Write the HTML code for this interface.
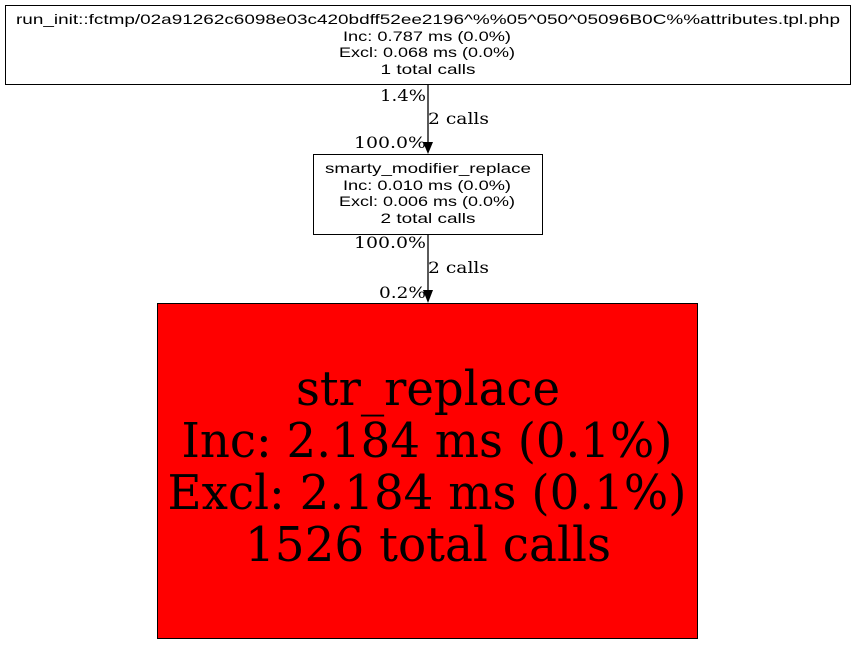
<!DOCTYPE html>
<html><head><style>html,body{margin:0;padding:0;background:#fff}</style></head>
<body>
<svg width="856" height="645" viewBox="0 0 856 645" xmlns="http://www.w3.org/2000/svg">
<rect x="0" y="0" width="856" height="645" fill="#fff"/>
<g font-family="Liberation Sans, DejaVu Sans, sans-serif" font-size="14" text-anchor="middle" fill="#000">
<rect x="5.5" y="5.5" width="845" height="79" fill="#fff" stroke="#000"/>
<text x="428" y="24" textLength="824" lengthAdjust="spacingAndGlyphs">run_init::fctmp/02a91262c6098e03c420bdff52ee2196^%%05^050^05096B0C%%attributes.tpl.php</text>
<text x="427" y="41" textLength="168" lengthAdjust="spacingAndGlyphs">Inc: 0.787 ms (0.0%)</text>
<text x="427" y="57" textLength="176" lengthAdjust="spacingAndGlyphs">Excl: 0.068 ms (0.0%)</text>
<text x="428" y="74" textLength="95" lengthAdjust="spacingAndGlyphs">1 total calls</text>
<rect x="313.5" y="154.5" width="229" height="80" fill="#fff" stroke="#000"/>
<text x="428" y="173" textLength="206" lengthAdjust="spacingAndGlyphs">smarty_modifier_replace</text>
<text x="427" y="190" textLength="168" lengthAdjust="spacingAndGlyphs">Inc: 0.010 ms (0.0%)</text>
<text x="427" y="206" textLength="176" lengthAdjust="spacingAndGlyphs">Excl: 0.006 ms (0.0%)</text>
<text x="428" y="223" textLength="95" lengthAdjust="spacingAndGlyphs">2 total calls</text>
</g>
<g stroke="#000" stroke-width="1.3">
<line x1="428" y1="85" x2="428" y2="143"/>
<line x1="428" y1="235" x2="428" y2="291"/>
</g>
<polygon points="423,142 433,142 428,154" fill="#000"/>
<polygon points="423,290 433,290 428,303" fill="#000"/>
<g font-family="DejaVu Serif, Liberation Serif, serif" font-size="16" fill="#000">
<text x="426" y="101" text-anchor="end" textLength="46" lengthAdjust="spacingAndGlyphs">1.4%</text>
<text x="428" y="124" textLength="61" lengthAdjust="spacingAndGlyphs">2 calls</text>
<text x="426" y="148" text-anchor="end" textLength="72" lengthAdjust="spacingAndGlyphs">100.0%</text>
<text x="426" y="248" text-anchor="end" textLength="72" lengthAdjust="spacingAndGlyphs">100.0%</text>
<text x="428" y="273" textLength="61" lengthAdjust="spacingAndGlyphs">2 calls</text>
<text x="426" y="298" text-anchor="end" textLength="47" lengthAdjust="spacingAndGlyphs">0.2%</text>
</g>
<rect x="157.5" y="303.5" width="540" height="335" fill="#ff0000" stroke="#000"/>
<g font-family="DejaVu Serif, Liberation Serif, serif" font-size="48" text-anchor="middle" fill="#000">
<text x="428" y="405" textLength="264" lengthAdjust="spacingAndGlyphs">str_replace</text>
<text x="427" y="457" textLength="491" lengthAdjust="spacingAndGlyphs">Inc: 2.184 ms (0.1%)</text>
<text x="427" y="509" textLength="519" lengthAdjust="spacingAndGlyphs">Excl: 2.184 ms (0.1%)</text>
<text x="428" y="561" textLength="366" lengthAdjust="spacingAndGlyphs">1526 total calls</text>
</g>
</svg>
</body></html>
